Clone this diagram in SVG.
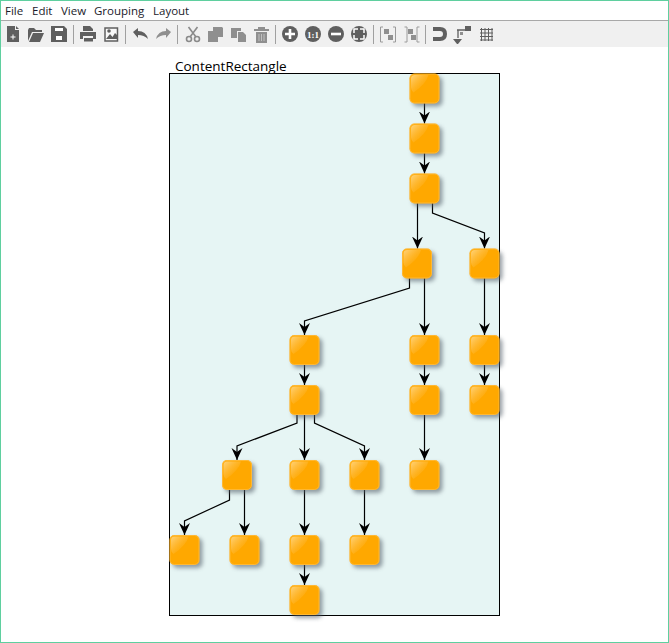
<svg xmlns="http://www.w3.org/2000/svg" width="669" height="643" viewBox="0 0 669 643">
<style>
.menu{font:11.5px "Open Sans","Noto Sans",sans-serif;fill:#1a1a2a}
.ttl{font:13.5px "Open Sans","Noto Sans",sans-serif;fill:#000}
.e{fill:none;stroke:#000;stroke-width:1.2;marker-end:url(#a)}
.i{fill:#5f5f5f}.d{fill:#8f8f8f}
.w{fill:#fff}.sep{fill:#a0a0a0}
</style>
<defs>
<marker id="a" markerUnits="userSpaceOnUse" markerWidth="14" markerHeight="12" refX="12" refY="5.500" orient="auto"><path d="M0 0L12 5.500L0 11L4 5.500Z" fill="#000"/></marker>
<linearGradient id="h" x1="0" y1="0" x2="1" y2="1"><stop offset="0" stop-color="#ffe6b0" stop-opacity=".7"/><stop offset=".7" stop-color="#ffc050" stop-opacity=".12"/><stop offset="1" stop-color="#ffb020" stop-opacity="0"/></linearGradient>
<filter id="b" x="-30%" y="-30%" width="170%" height="170%"><feGaussianBlur stdDeviation="2"/></filter>
<filter id="s" x="-20%" y="-20%" width="140%" height="140%"><feGaussianBlur stdDeviation=".6"/></filter>
<g id="n">
<rect x="3" y="3" width="30" height="30" rx="5" fill="#55606a" opacity=".6" filter="url(#b)"/>
<rect width="30" height="30" rx="5" fill="#ffa800"/>
<path d="M1.500 13V5Q1.500 1.500 5 1.500H19Q17 10 4 19Q1.500 17 1.500 14Z" fill="url(#h)" filter="url(#s)"/>
<rect x=".5" y=".5" width="29" height="29" rx="4.500" fill="none" stroke="#ffc766" stroke-width="1" opacity=".5"/>
</g>
</defs>
<rect width="669" height="643" fill="#fff"/>
<g id="menubar">
<text class="menu" x="5" y="15">File</text><text class="menu" x="32" y="15">Edit</text><text class="menu" x="61" y="15">View</text><text class="menu" x="94" y="15">Grouping</text><text class="menu" x="153" y="15">Layout</text>
<rect x="1" y="20" width="667" height="1" fill="#a8a8a8"/>
<rect x="1" y="21" width="667" height="26" fill="#f0f0f0"/>
</g>
<g id="toolbar">
<path class="i" d="M7 26H15V30H19V42H7Z"/><path class="i" d="M16 26L19 29H16Z"/><path class="w" d="M15.500 36.500h-2v-2h-1v2h-2v1h2v2h1v-2h2z"/>
<path class="i" d="M28 30L29 28H34L36 30H42V32H32L28 41ZM29 42L33 33H44L40 42Z"/>
<path class="i" d="M51 26H64L67 29V42H51Z"/><rect class="w" x="55" y="28" width="8" height="3"/><rect class="w" x="56" y="36" width="6" height="4"/>
<rect class="sep" x="73" y="25" width="1" height="19"/>
<path class="i" d="M83 26H90L93 29V31H83ZM80 32H96V39H93V36H83V39H80Z"/><rect class="i" x="84" y="38" width="9" height="3.500"/>
<rect x="105" y="28" width="12.500" height="13" fill="#f8f8f8" stroke="#5f5f5f" stroke-width="1.500"/><path class="i" d="M106 39L110 34L112.500 37L115 33L117 35V39Z"/><circle class="i" cx="109" cy="31" r="1.800"/>
<rect class="sep" x="125" y="25" width="1" height="19"/>
<path class="i" d="M133 32L138 28V31Q146 31 148 39Q144 35 138 35V38Z"/>
<path class="d" d="M171 32L166 28V31Q158 31 156 39Q160 35 166 35V38Z"/>
<rect class="sep" x="177" y="25" width="1" height="19"/>
<path d="M188.500 27L196 37M197.500 27L190 37" stroke="#8a8a8a" stroke-width="1.600"/><circle cx="189" cy="39" r="2.500" fill="none" stroke="#8a8a8a" stroke-width="1.600"/><circle cx="197" cy="39" r="2.500" fill="none" stroke="#8a8a8a" stroke-width="1.600"/>
<path class="d" d="M213 27H222L223 28V37H213Z"/><path class="d" d="M208 31H218V42H208Z"/>
<path class="d" d="M231 28H241V31H237V38H231Z"/><path class="d" d="M238 32H243L246 35V42H238Z"/>
<path class="d" d="M258 27H265V29H269V31H254V29H258ZM256 32H267V43H256Z"/><path d="M259 34V41M261.500 34V41M264 34V41" stroke="#c0c0c0" fill="none"/>
<rect class="sep" x="275" y="25" width="1" height="19"/>
<circle class="i" cx="290" cy="34" r="8"/><path class="w" d="M288.700 29H291.300V32.700H295V35.300H291.300V39H288.700V35.300H285V32.700H288.700Z"/>
<circle class="i" cx="313" cy="34" r="8"/><text x="313" y="37.500" text-anchor="middle" style="font:bold 9px 'Liberation Serif',serif;fill:#fff">1:1</text>
<circle class="i" cx="336" cy="34" r="8"/><rect class="w" x="331" y="32.700" width="10" height="2.600"/>
<circle class="i" cx="359" cy="34" r="8"/><path d="M354 33V29H358M360 29H364V33M364 35V39H360M358 39H354V35" fill="none" stroke="#fff" stroke-width="1.500"/>
<rect class="sep" x="373" y="25" width="1" height="19"/>
<path d="M383 27H380.500V42H383M393 27H395.500V42H393" fill="none" stroke="#9a9a9a"/><rect class="d" x="384" y="29" width="5" height="5"/><rect class="d" x="388" y="35" width="5" height="5"/>
<path d="M404.500 27H407V42H404.500M419.500 27H417V42H419.500" fill="none" stroke="#9a9a9a"/><rect class="d" x="408" y="29" width="5" height="5"/><rect class="d" x="411" y="35" width="5" height="5"/>
<rect class="sep" x="425" y="25" width="1" height="19"/>
<path class="i" d="M433 27H440Q447 27 447 34Q447 41 440 41H433V37H440Q443 37 443 34Q443 31 440 31H433Z"/>
<path d="M457 30H466V28M458 30V38" fill="none" stroke="#5f5f5f" stroke-width="1.300"/><path class="i" d="M457 44L453 39H462L458 44Z"/><rect class="i" x="465" y="26" width="6" height="5"/><rect class="d" x="460" y="32" width="3" height="3"/>
<path d="M481.500 28V41M485 28V41M488.500 28V41M492 28V41M480 29.500H493M480 33H493M480 36.500H493M480 40H493" stroke="#5f5f5f" stroke-width="1" fill="none"/>
</g>
<g id="content-rectangle">
<rect x="169.500" y="73.500" width="330" height="542" fill="#e6f5f4" stroke="#000" stroke-width="1"/>
<text class="ttl" x="175" y="71">ContentRectangle</text>
</g>
<g id="connectors">
<path class="e" d="M424.500 103V123.500"/>
<path class="e" d="M424.500 153V173.500"/>
<path class="e" d="M417.500 203V248.500"/>
<path class="e" d="M432.500 203V213L484.500 233V248.500"/>
<path class="e" d="M409.500 278V288L304.500 321V335"/>
<path class="e" d="M424.500 278V335"/>
<path class="e" d="M484.500 278V335"/>
<path class="e" d="M304.500 365V385"/>
<path class="e" d="M424.500 365V385"/>
<path class="e" d="M484.500 365V385"/>
<path class="e" d="M424.500 415V460"/>
<path class="e" d="M297 415V423L237 446V460"/>
<path class="e" d="M304.500 415V460"/>
<path class="e" d="M314.500 415V423L364.500 446V460"/>
<path class="e" d="M229.500 490V500L184.500 521V535"/>
<path class="e" d="M244.500 490V535"/>
<path class="e" d="M304.500 490V535"/>
<path class="e" d="M364.500 490V535"/>
<path class="e" d="M304.500 565V585"/>
</g>
<g id="n1"><use href="#n" x="409.500" y="73.500"/></g>
<g id="n2"><use href="#n" x="409.500" y="123.500"/></g>
<g id="n3"><use href="#n" x="409.500" y="173.500"/></g>
<g id="n4"><use href="#n" x="402" y="248.500"/></g>
<g id="n5"><use href="#n" x="469.500" y="248.500"/></g>
<g id="n6"><use href="#n" x="289.500" y="335"/></g>
<g id="n7"><use href="#n" x="409.500" y="335"/></g>
<g id="n8"><use href="#n" x="469.500" y="335"/></g>
<g id="n9"><use href="#n" x="289.500" y="385"/></g>
<g id="n10"><use href="#n" x="409.500" y="385"/></g>
<g id="n11"><use href="#n" x="469.500" y="385"/></g>
<g id="n12"><use href="#n" x="222" y="460"/></g>
<g id="n13"><use href="#n" x="289.500" y="460"/></g>
<g id="n14"><use href="#n" x="349.500" y="460"/></g>
<g id="n15"><use href="#n" x="409.500" y="460"/></g>
<g id="n16"><use href="#n" x="169.500" y="535"/></g>
<g id="n17"><use href="#n" x="229.500" y="535"/></g>
<g id="n18"><use href="#n" x="289.500" y="535"/></g>
<g id="n19"><use href="#n" x="349.500" y="535"/></g>
<g id="n20"><use href="#n" x="289.500" y="585"/></g>
<rect id="window-frame" x=".5" y=".5" width="668" height="642" fill="none" stroke="#5fcf9f" stroke-width="1"/>
</svg>
